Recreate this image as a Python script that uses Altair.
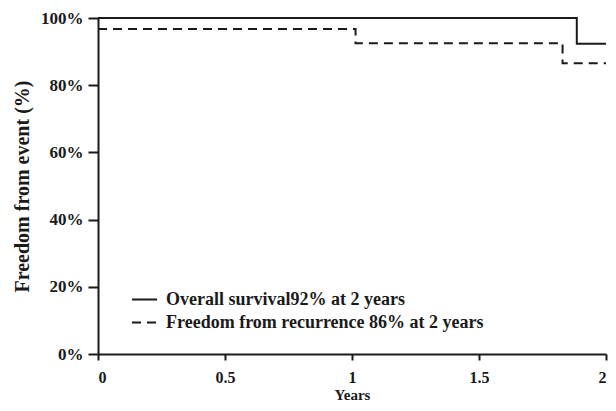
import altair as alt
import pandas as pd

# Kaplan-Meier style step data
os_label = "Overall survival92% at 2 years"
rec_label = "Freedom from recurrence  86% at 2 years"

os_time = [0.0, 1.885, 2.0]
os_surv = [100.0, 92.3, 92.3]

rec_time = [0.0, 1.014, 1.829, 2.0]
rec_surv = [96.7, 92.5, 86.5, 86.5]

x_ticks = [0, 0.5, 1, 1.5, 2]
y_ticks = [0, 20, 40, 60, 80, 100]

df = pd.concat([
    pd.DataFrame({"time": os_time, "surv": os_surv, "series": os_label}),
    pd.DataFrame({"time": rec_time, "surv": rec_surv, "series": rec_label}),
])

FONT = "Liberation Serif"
INK = "#1a1a1a"

chart = alt.Chart(df).mark_line(
    interpolate="step-after", strokeWidth=2, color=INK
).encode(
    x=alt.X("time:Q", scale=alt.Scale(domain=[0, 2], nice=False),
            axis=alt.Axis(title="Years", values=x_ticks, format="~g",
                          tickSize=6, labelPadding=9, labelFontSize=16,
                          titleY=45, titleBaseline="alphabetic",
                          titleFontSize=15)),
    y=alt.Y("surv:Q", scale=alt.Scale(domain=[0, 100], nice=False),
            axis=alt.Axis(title="Freedom from event (%)", values=y_ticks,
                          labelExpr="datum.value + '%'", tickSize=10,
                          labelPadding=5, titlePadding=8,
                          titleFontSize=20)),
    strokeDash=alt.StrokeDash(
        "series:N",
        scale=alt.Scale(domain=[os_label, rec_label], range=[[1, 0], [9, 6]]),
        legend=alt.Legend(
            title=None, orient="none", legendX=33, legendY=268,
            symbolType="stroke", symbolSize=625, symbolStrokeWidth=2,
            symbolStrokeColor=INK, labelFont=FONT, labelFontWeight="bold",
            labelFontSize=18, labelColor=INK, labelOffset=8, rowPadding=-3,
            padding=0, labelLimit=450,
        ),
    ),
    order=alt.Order("time:Q"),
).properties(
    width=508, height=336,
    autosize=alt.AutoSizeParams(type="none"),
    padding={"left": 90, "top": 10, "right": 2, "bottom": 49},
).configure_view(stroke=None).configure_axis(
    grid=False, domainColor=INK, domainWidth=2, tickColor=INK, tickWidth=2,
    labelFont=FONT, labelFontWeight="bold", labelFontSize=17, labelColor=INK,
    titleFont=FONT, titleFontWeight="bold", titleFontSize=17, titleColor=INK,
)

chart.save("out.html", embed_options={"renderer": "svg", "actions": False})
